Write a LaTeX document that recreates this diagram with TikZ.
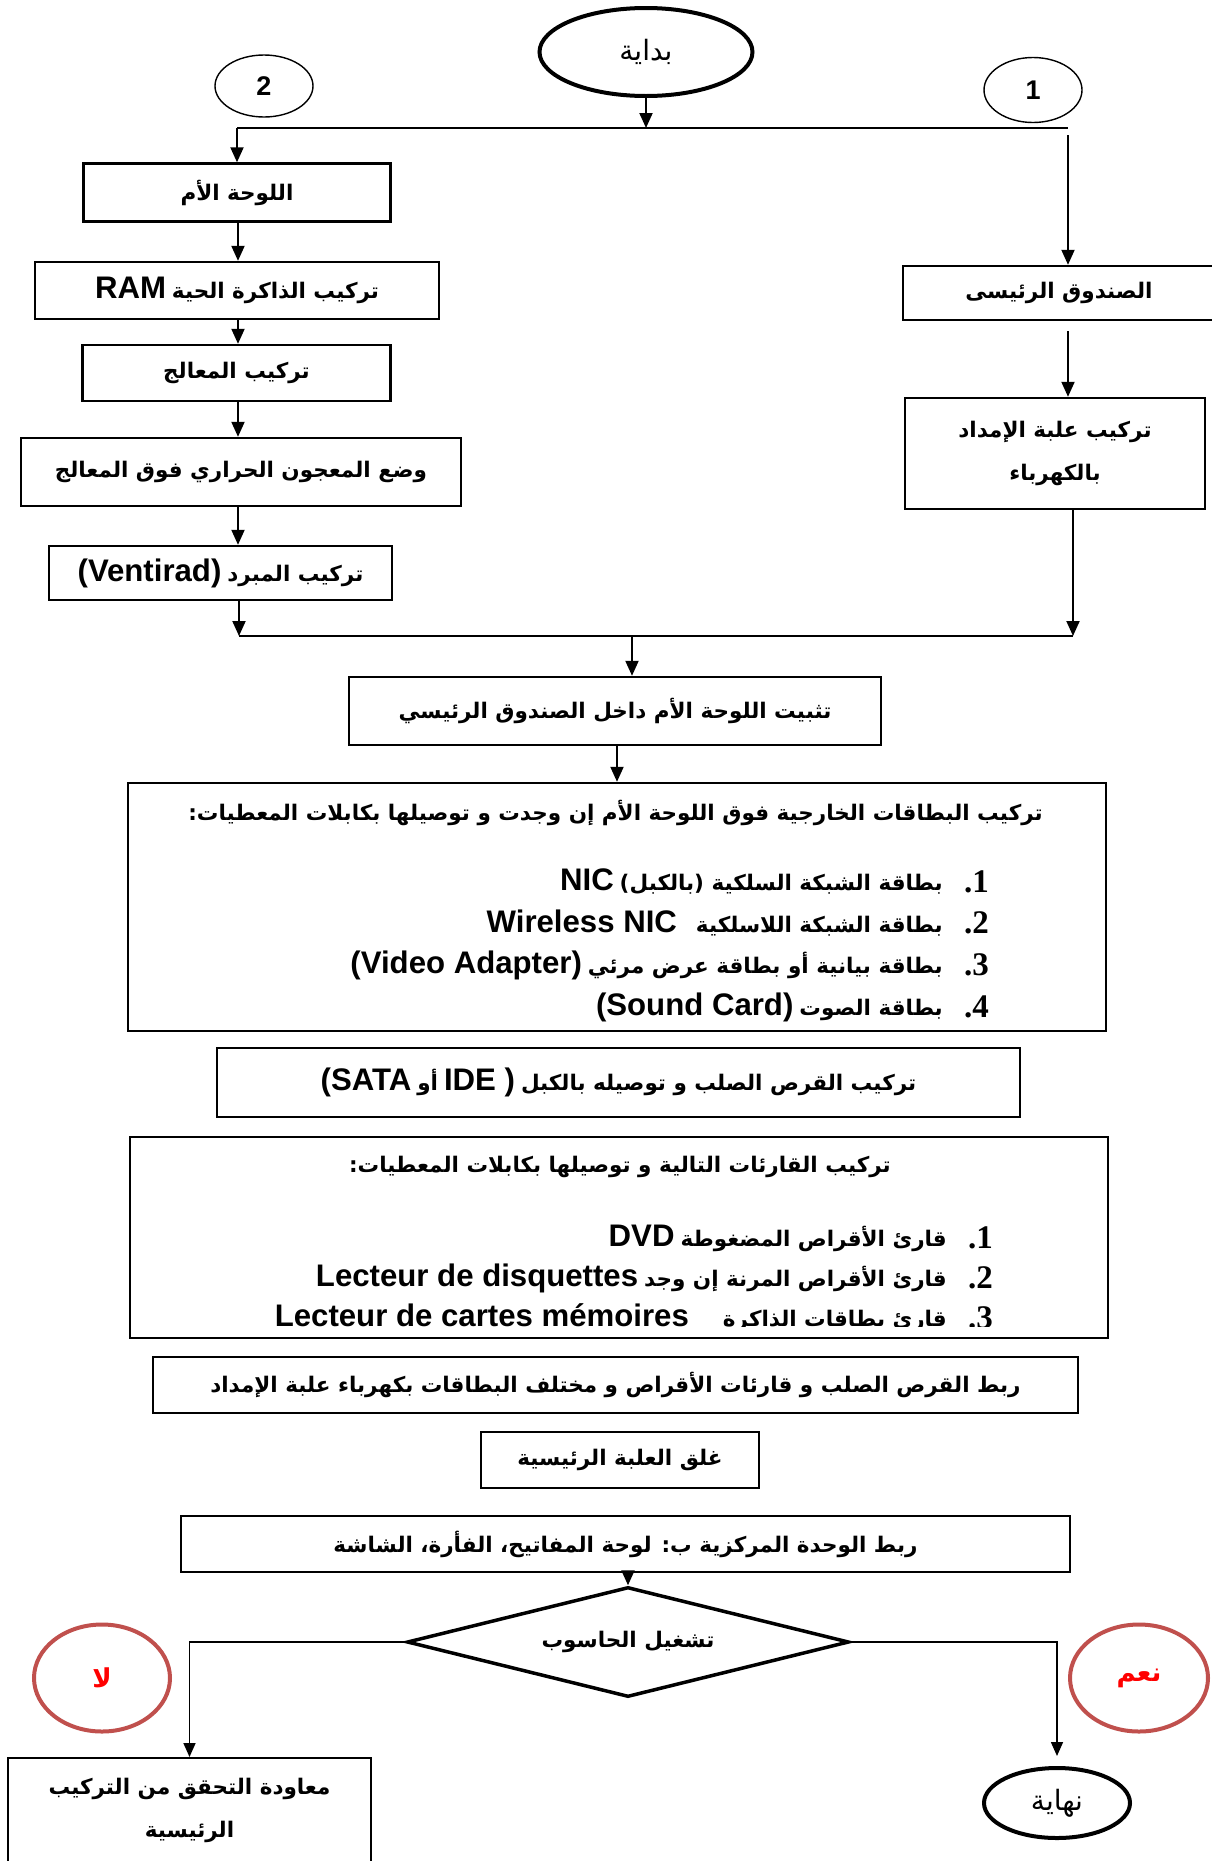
\documentclass[tikz,border=0pt]{standalone}
\usepackage{fontspec}
\setmainfont{Liberation Sans}
\newfontfamily\arabicfont[Script=Arabic]{DejaVu Sans}
\newfontfamily\latinfont[Scale=1.45]{Liberation Sans}
\newfontfamily\numfont{Liberation Serif}
\TeXXeTstate=1
\usetikzlibrary{shapes.geometric, arrows.meta}
\definecolor{tag-edge}{HTML}{C0504D}
\definecolor{tag-text}{HTML}{FF0000}
\newcommand{\ar}[1]{{\arabicfont\beginR #1\endR}}
\newcommand{\la}[1]{{\latinfont #1}}

\tikzset{
  stepbox/.style={draw, line width=2.4pt, inner sep=0pt, align=center,
    font=\bfseries\fontsize{21.5}{43}\selectfont},
  term/.style={draw, ellipse, line width=4pt, inner sep=0pt,
    font=\fontsize{28}{30}\selectfont},
  entrymark/.style={draw, ellipse, line width=1.4pt, inner sep=0pt,
    font=\bfseries\fontsize{27}{28}\selectfont},
  tag/.style={draw=tag-edge, ellipse, line width=4pt, inner sep=0pt,
    text=tag-text, font=\bfseries\fontsize{26}{28}\selectfont},
  itemtxt/.style={anchor=east, inner sep=0pt, font=\bfseries\fontsize{21.5}{24}\selectfont},
  itemno/.style={anchor=east, inner sep=0pt, font=\numfont\bfseries\fontsize{33}{33}\selectfont},
  wire/.style={line width=2pt},
  arr/.style={line width=2pt, -{Triangle[length=15pt, width=13pt]}},
  branch/.style={line width=1.6pt, -{Triangle[length=14pt, width=12pt]}}
}

\begin{document}
\begin{tikzpicture}[x=1pt, y=-1pt]
  \useasboundingbox (0,0) rectangle (1211,1861);

  % start and the two entry marks
  \node[term, minimum width=213pt, minimum height=88pt] (start) at (646,52) {\ar{بداية}};
  \node[entrymark, minimum width=98pt, minimum height=62pt] (two) at (264,86) {2};
  \node[entrymark, minimum width=98pt, minimum height=65pt] (one) at (1033,90) {1};

  % column 2: the motherboard
  \node[stepbox, minimum width=307pt, minimum height=58pt] (mb) at (237,192.5) {\ar{اللوحة الأم}};
  \node[stepbox, minimum width=404pt, minimum height=57pt] (ram) at (237,290.5) {\la{RAM} \ar{تركيب الذاكرة الحية}};
  \node[stepbox, minimum width=308pt, minimum height=56pt] (proc) at (236.5,373) {\ar{تركيب المعالج}};
  \node[stepbox, minimum width=440pt, minimum height=68pt] (paste) at (241,472) {\ar{وضع المعجون الحراري فوق المعالج}};
  \node[stepbox, minimum width=343pt, minimum height=54pt] (vent) at (220.5,573) {\la{(Ventirad)} \ar{تركيب المبرد}};

  % column 1: the case
  \node[stepbox, minimum width=312pt, minimum height=54pt] (case) at (1059,293) {\ar{الصندوق الرئيسى}};
  \node[stepbox, minimum width=300pt, minimum height=111pt] (psu) at (1055,453.5) {\ar{تركيب علبة الإمداد}\\\ar{بالكهرباء}};

  % main sequence
  \node[stepbox, minimum width=532pt, minimum height=68pt] (fix) at (615,711) {\ar{تثبيت اللوحة الأم داخل الصندوق الرئيسي}};
  \node[stepbox, minimum width=978pt, minimum height=248pt] (cards) at (617,907) {};
  \node[itemtxt] (cardtitle) at (1043,813) {\ar{تركيب البطاقات الخارجية فوق اللوحة الأم إن وجدت و توصيلها بكابلات المعطيات:}};
  \foreach \k/\y/\txt in {1/882/{\la{NIC} \ar{بطاقة الشبكة السلكية (بالكبل)}},
                          2/923/{\la{Wireless NIC}\hspace{19pt}\ar{بطاقة الشبكة اللاسلكية}},
                          3/965/{\la{(Video Adapter)} \ar{بطاقة بيانية أو بطاقة عرض مرئي}},
                          4/1007/{\la{(Sound Card)} \ar{بطاقة الصوت}}} {
    \node[itemno] (cardno\k) at (989,\y) {.\k};
    \node[itemtxt] (card\k) at (943,\y) {\txt};
  }

  \node[stepbox, minimum width=803pt, minimum height=69pt] (disk) at (618.5,1082.5) {\la{(SATA} \ar{أو} \la{IDE )} \ar{تركيب القرص الصلب و توصيله بالكبل}};

  \node[stepbox, minimum width=978pt, minimum height=201pt] (drives) at (619,1237.5) {};
  \node[itemtxt, anchor=center] (drivetitle) at (620,1167) {\ar{تركيب القارئات التالية و توصيلها بكابلات المعطيات:}};
  \begin{scope}
    \clip (130,1137) rectangle (1108,1326);
    \foreach \k/\y/\txt in {1/1238/{\la{DVD} \ar{قارئ الأقراص المضغوطة}},
                            2/1278/{\la{Lecteur de disquettes} \ar{قارئ الأقراص المرنة إن وجد}},
                            3/1318/{\la{Lecteur de cartes mémoires}\hspace{34pt}\ar{قارئ بطاقات الذاكرة}}} {
      \node[itemno] (driveno\k) at (993,\y) {.\k};
      \node[itemtxt] (drive\k) at (947,\y) {\txt};
    }
  \end{scope}

  \node[stepbox, minimum width=925pt, minimum height=56pt] (power) at (615.5,1385) {\ar{ربط القرص الصلب و قارئات الأقراص و مختلف البطاقات بكهرباء علبة الإمداد}};
  \node[stepbox, minimum width=278pt, minimum height=56pt] (close) at (620,1460) {\ar{غلق العلبة الرئيسية}};
  \node[stepbox, minimum width=889pt, minimum height=56pt] (link) at (625.5,1544) {\ar{ربط الوحدة المركزية ب: لوحة المفاتيح، الفأرة، الشاشة}};

  % test and its two outcomes
  \node[stepbox, diamond, aspect=4, line width=3.5pt, minimum width=442pt, minimum height=110pt] (dec) at (628,1642) {\ar{تشغيل الحاسوب}};
  \node[stepbox, anchor=north, minimum width=363pt, text height=79pt, text depth=47pt] (retry) at (189.5,1757) {\ar{معاودة التحقق من التركيب}\\\ar{الرئيسية}};
  \node[term, minimum width=146pt, minimum height=70pt] (stop) at (1057,1803) {\ar{نهاية}};
  \node[tag, minimum width=136pt, minimum height=107pt] (no) at (102,1678) {\ar{لا}};
  \node[tag, minimum width=138pt, minimum height=107pt] (yes) at (1139,1678) {\ar{نعم}};

  % connectors
  \coordinate (topL) at (237,128);
  \coordinate (topR) at (1068,128);
  \coordinate (rcol) at (1068,135);
  \coordinate (lcol) at (238,0);
  \coordinate (mL) at (239,636);
  \coordinate (mR) at (1073,636);
  \coordinate (mC) at (632,636);

  \draw[arr] (start.south) -- (start.south |- topL);
  \draw[wire] (topL) -- (topR);
  \draw[arr] (topL) -- (mb.north);
  \draw[arr] (rcol) -- (rcol |- case.north);
  \draw[arr, shorten <=10pt] (case.south -| rcol) -- (psu.north -| rcol);
  \foreach \a/\b in {mb/ram, ram/proc, proc/paste, paste/vent}
    \draw[arr] (\a.south -| lcol) -- (\b.north -| lcol);
  \draw[arr] (vent.south -| mL) -- (mL);
  \draw[arr] (psu.south -| mR) -- (mR);
  \draw[wire] (mL) -- (mR);
  \draw[arr] (mC) -- (mC |- fix.north);
  \draw[arr] (fix.south -| cards.north) -- (cards.north);
  \draw[arr] (link.south -| dec.north) -- (dec.north);
  \draw[branch] (dec.west) -| (retry.north);
  \draw[branch, shorten >=10pt] (dec.east) -| (stop.north);
\end{tikzpicture}
\end{document}
